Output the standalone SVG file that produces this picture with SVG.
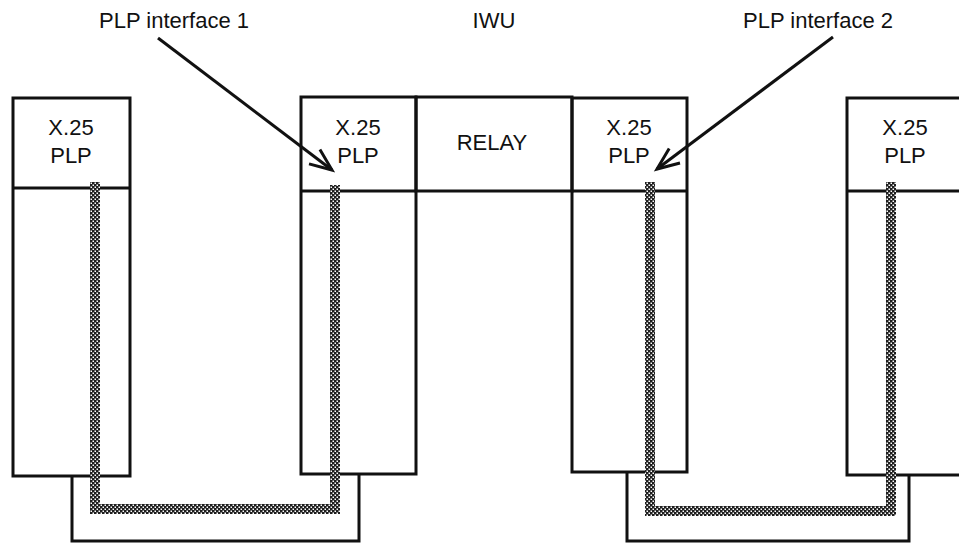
<svg xmlns="http://www.w3.org/2000/svg" width="959" height="544" viewBox="0 0 959 544">
<style>
.box{fill:none;stroke:#111;stroke-width:3}
.t{font-family:"Liberation Sans",Arial,sans-serif;font-size:22px;fill:#111;text-anchor:middle}
.con{fill:none;stroke:#111;stroke-width:3}
.chk{fill:none;stroke:url(#chk);stroke-width:10;stroke-linejoin:miter}
.arr{fill:none;stroke:#111;stroke-width:3;marker-end:url(#ah)}
</style>
<defs>
<pattern id="chk" width="4" height="4" patternUnits="userSpaceOnUse">
<rect width="4" height="4" fill="#1e1e1e"/>
<rect x="0.5" y="0.5" width="1.5" height="1.5" fill="#fff"/>
<rect x="2.5" y="2.5" width="1.5" height="1.5" fill="#fff"/>
</pattern>
<marker id="ah" markerWidth="10" markerHeight="10" refX="9" refY="5" orient="auto" markerUnits="userSpaceOnUse" viewBox="0 0 10 10" overflow="visible">
<path d="M-13,-4 L9,5 L-13,14" fill="none" stroke="#111" stroke-width="3"/>
</marker>
</defs>
<rect width="959" height="544" fill="#fff"/>
<g id="labels">
<text class="t" x="174" y="28">PLP interface 1</text>
<text class="t" x="494" y="28">IWU</text>
<text class="t" x="818" y="28">PLP interface 2</text>
</g>
<g id="node-left">
<rect class="box" x="13" y="98" width="117" height="378"/>
<line class="box" x1="13" y1="188" x2="130" y2="188"/>
<text class="t" x="71" y="135">X.25</text>
<text class="t" x="71" y="163">PLP</text>
</g>
<g id="node-iwu1">
<rect class="box" x="301" y="97" width="115" height="377"/>
<line class="box" x1="301" y1="191" x2="416" y2="191"/>
<text class="t" x="358" y="135">X.25</text>
<text class="t" x="358" y="163">PLP</text>
</g>
<g id="node-relay">
<rect class="box" x="416" y="97" width="156" height="94"/>
<text class="t" x="492" y="150">RELAY</text>
</g>
<g id="node-iwu2">
<rect class="box" x="572" y="98" width="115" height="374"/>
<line class="box" x1="572" y1="191" x2="687" y2="191"/>
<text class="t" x="629" y="135">X.25</text>
<text class="t" x="629" y="163">PLP</text>
</g>
<g id="node-right">
<rect class="box" x="847" y="98" width="118" height="377"/>
<line class="box" x1="847" y1="191" x2="965" y2="191"/>
<text class="t" x="905" y="135">X.25</text>
<text class="t" x="905" y="163">PLP</text>
</g>
<g id="connectors">
<polyline class="con" points="72,476 72,541 359,541 359,474"/>
<polyline class="con" points="627,472 627,541 909,541 909,475"/>
<path class="chk" d="M95,182 V509 H335 V185"/>
<path class="chk" d="M650,182 V511 H891 V182"/>
<line class="arr" x1="158" y1="38" x2="332" y2="170"/>
<line class="arr" x1="833" y1="37" x2="657" y2="169"/>
</g>
</svg>
